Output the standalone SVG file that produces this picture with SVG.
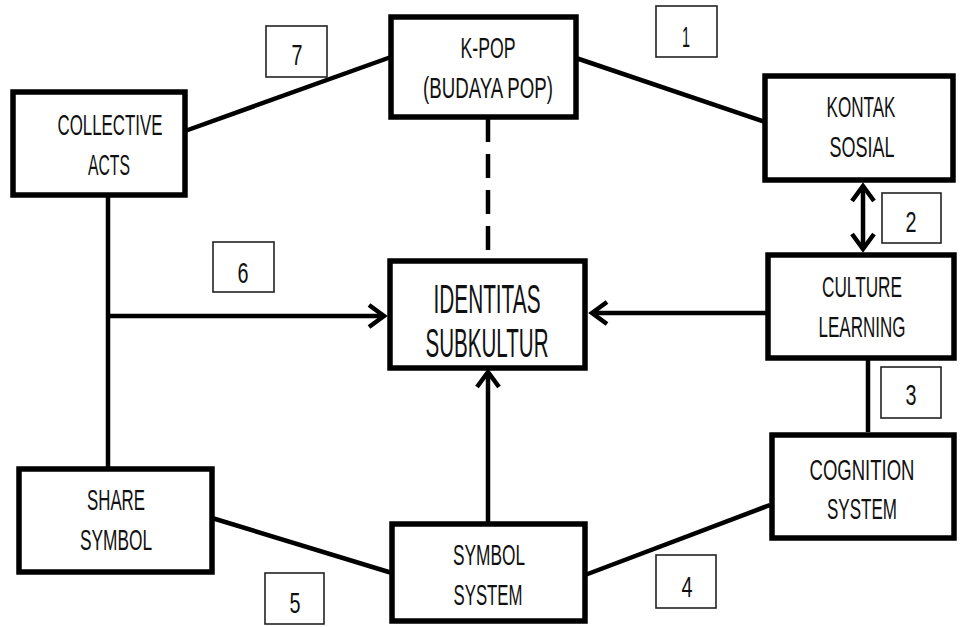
<svg xmlns="http://www.w3.org/2000/svg" width="960" height="627" viewBox="0 0 960 627">
<style>
.box{fill:#fff;stroke:#000;stroke-width:5.5}
.num{fill:#fff;stroke:#222;stroke-width:1.6}
.t{font-family:"Liberation Sans",Arial,sans-serif;font-size:30px;fill:#111;text-anchor:middle}
.big{font-size:41px}
.d{font-family:"Liberation Sans",Arial,sans-serif;font-size:30px;fill:#111;text-anchor:middle}
.ln{stroke:#000;stroke-width:4.5;fill:none}
</style>
<defs>
<marker id="ah" markerUnits="userSpaceOnUse" viewBox="-20 -14 24 28" markerWidth="24" markerHeight="28" refX="0" refY="0" orient="auto-start-reverse">
<path d="M-15,-11 L0,0 L-15,11" fill="none" stroke="#000" stroke-width="4.5" stroke-linejoin="miter"/>
</marker>
</defs>
<rect width="960" height="627" fill="#fff"/>
<g id="connectors">
<line class="ln" x1="185" y1="131" x2="391" y2="57"/>
<line class="ln" x1="576" y1="58" x2="765" y2="122"/>
<line class="ln" x1="212" y1="518" x2="392" y2="573"/>
<line class="ln" x1="585" y1="575" x2="770" y2="505"/>
<line class="ln" x1="488" y1="118" x2="488" y2="258" stroke-width="6" stroke-dasharray="24,12"/>
<line class="ln" x1="863" y1="186" x2="863" y2="249" marker-start="url(#ah)" marker-end="url(#ah)"/>
<line class="ln" x1="868" y1="360" x2="868" y2="432"/>
<line class="ln" x1="766" y1="313" x2="592" y2="313" marker-end="url(#ah)"/>
<line class="ln" x1="108" y1="196" x2="108" y2="467"/>
<line class="ln" x1="108" y1="316" x2="384" y2="316" marker-end="url(#ah)"/>
<line class="ln" x1="488" y1="522" x2="488" y2="372" marker-end="url(#ah)"/>
</g>
<g id="kpop"><rect class="box" x="391" y="17" width="185" height="100"/>
<text class="t" transform="translate(488,0) scale(0.6,1)" x="0" y="58" textLength="91.7" lengthAdjust="spacingAndGlyphs">K-POP</text>
<text class="t" transform="translate(488,0) scale(0.6,1)" x="0" y="98" textLength="216.7" lengthAdjust="spacingAndGlyphs">(BUDAYA POP)</text></g>
<g id="kontak"><rect class="box" x="765" y="76" width="188" height="104"/>
<text class="t" transform="translate(861,0) scale(0.6,1)" x="0" y="117" textLength="115" lengthAdjust="spacingAndGlyphs">KONTAK</text>
<text class="t" transform="translate(862,0) scale(0.6,1)" x="0" y="157" textLength="108.3" lengthAdjust="spacingAndGlyphs">SOSIAL</text></g>
<g id="culture"><rect class="box" x="768" y="255" width="186" height="103"/>
<text class="t" transform="translate(862,0) scale(0.6,1)" x="0" y="297" textLength="133.3" lengthAdjust="spacingAndGlyphs">CULTURE</text>
<text class="t" transform="translate(862,0) scale(0.6,1)" x="0" y="337" textLength="145" lengthAdjust="spacingAndGlyphs">LEARNING</text></g>
<g id="cognition"><rect class="box" x="772" y="435" width="182" height="103"/>
<text class="t" transform="translate(862,0) scale(0.6,1)" x="0" y="480" textLength="175" lengthAdjust="spacingAndGlyphs">COGNITION</text>
<text class="t" transform="translate(862,0) scale(0.6,1)" x="0" y="519" textLength="116.7" lengthAdjust="spacingAndGlyphs">SYSTEM</text></g>
<g id="identitas"><rect class="box" x="390" y="261" width="195" height="107"/>
<text class="t big" transform="translate(487,0) scale(0.6,1)" x="0" y="313" textLength="178.3" lengthAdjust="spacingAndGlyphs">IDENTITAS</text>
<text class="t big" transform="translate(487,0) scale(0.6,1)" x="0" y="357" textLength="205" lengthAdjust="spacingAndGlyphs">SUBKULTUR</text></g>
<g id="collective"><rect class="box" x="13" y="92" width="172" height="103"/>
<text class="t" transform="translate(110,0) scale(0.6,1)" x="0" y="135" textLength="175" lengthAdjust="spacingAndGlyphs">COLLECTIVE</text>
<text class="t" transform="translate(109,0) scale(0.6,1)" x="0" y="175" textLength="70" lengthAdjust="spacingAndGlyphs">ACTS</text></g>
<g id="share"><rect class="box" x="19" y="469" width="193" height="103"/>
<text class="t" transform="translate(116,0) scale(0.6,1)" x="0" y="510" textLength="96.7" lengthAdjust="spacingAndGlyphs">SHARE</text>
<text class="t" transform="translate(116,0) scale(0.6,1)" x="0" y="550" textLength="120" lengthAdjust="spacingAndGlyphs">SYMBOL</text></g>
<g id="symbolsystem"><rect class="box" x="392" y="524" width="193" height="97"/>
<text class="t" transform="translate(489,0) scale(0.6,1)" x="0" y="565" textLength="120" lengthAdjust="spacingAndGlyphs">SYMBOL</text>
<text class="t" transform="translate(488,0) scale(0.6,1)" x="0" y="605" textLength="115" lengthAdjust="spacingAndGlyphs">SYSTEM</text></g>
<g id="n1"><rect class="num" x="656" y="6" width="61" height="51"/><text class="d" x="686" y="47" textLength="8" lengthAdjust="spacingAndGlyphs">1</text></g>
<g id="n2"><rect class="num" x="882" y="193" width="59" height="50"/><text class="d" x="911" y="232" textLength="11" lengthAdjust="spacingAndGlyphs">2</text></g>
<g id="n3"><rect class="num" x="881" y="367" width="60" height="51"/><text class="d" x="911" y="405" textLength="11" lengthAdjust="spacingAndGlyphs">3</text></g>
<g id="n4"><rect class="num" x="656" y="555" width="60" height="53"/><text class="d" x="687" y="597" textLength="11" lengthAdjust="spacingAndGlyphs">4</text></g>
<g id="n5"><rect class="num" x="265" y="573" width="59" height="51"/><text class="d" x="295" y="613" textLength="11" lengthAdjust="spacingAndGlyphs">5</text></g>
<g id="n6"><rect class="num" x="213" y="242" width="61" height="50"/><text class="d" x="243" y="283" textLength="11" lengthAdjust="spacingAndGlyphs">6</text></g>
<g id="n7"><rect class="num" x="266" y="26" width="61" height="51"/><text class="d" x="297" y="65" textLength="11" lengthAdjust="spacingAndGlyphs">7</text></g>
</svg>
